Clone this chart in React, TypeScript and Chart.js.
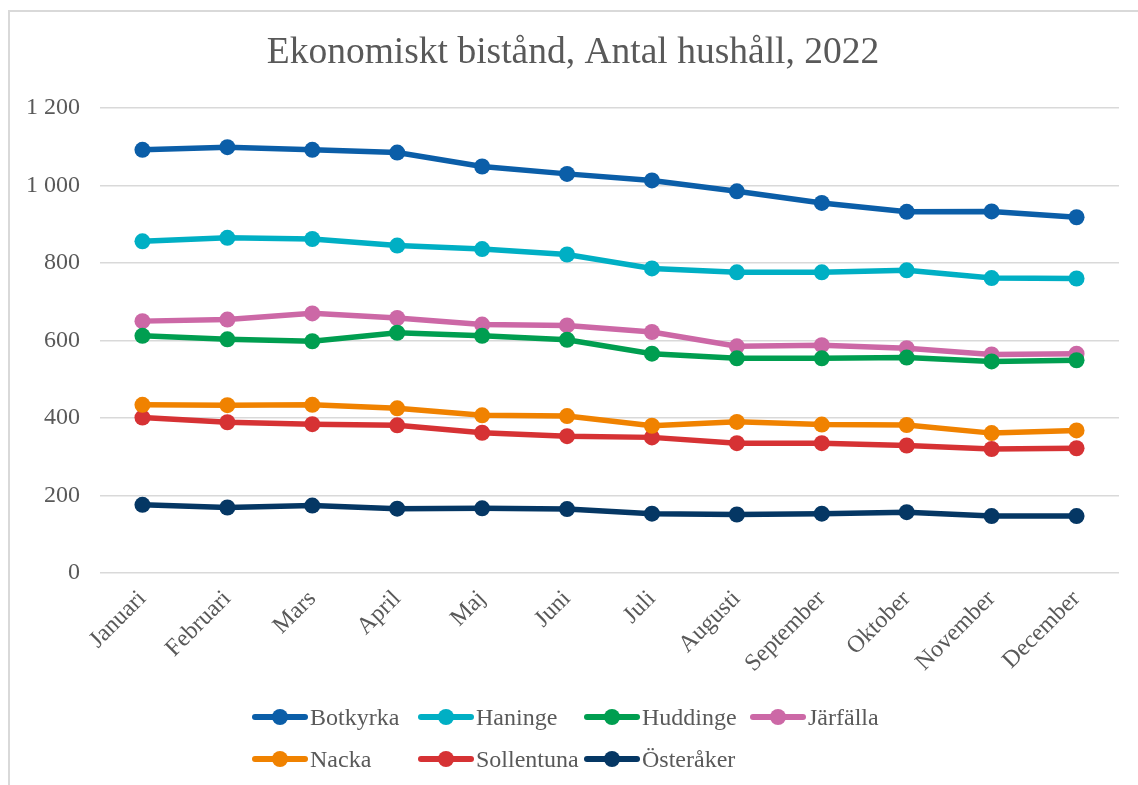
import React, { useEffect, useRef } from "react";
import { Chart, registerables } from "chart.js";

Chart.register(...registerables);

const titleText = "Ekonomiskt bistånd, Antal hushåll, 2022";
const months = ["Januari", "Februari", "Mars", "April", "Maj", "Juni", "Juli", "Augusti", "September", "Oktober", "November", "December"];
const seriesNames = ["Botkyrka", "Haninge", "Huddinge", "Järfälla", "Nacka", "Sollentuna", "Österåker"];
const botkyrka = [1092, 1099, 1092, 1085, 1049, 1030, 1013, 985, 955, 932, 933, 918];
const haninge = [856, 865, 862, 845, 836, 822, 786, 776, 776, 781, 761, 760];
const huddinge = [612, 603, 598, 620, 612, 602, 566, 554, 554, 556, 546, 549];
const jarfalla = [650, 654, 670, 658, 641, 639, 622, 585, 588, 580, 564, 566];
const nacka = [434, 433, 434, 425, 407, 405, 380, 390, 383, 382, 361, 368];
const sollentuna = [401, 389, 384, 381, 362, 353, 350, 335, 335, 329, 320, 322];
const osteraker = [176, 169, 174, 166, 167, 165, 153, 151, 153, 157, 147, 147];
const yTicks = [0, 200, 400, 600, 800, 1000, 1200];

const seriesValues = [botkyrka, haninge, huddinge, jarfalla, nacka, sollentuna, osteraker];
const seriesColors = ["#0B5EA8", "#00AFC4", "#009E50", "#CC68A6", "#F08200", "#D63234", "#053764"];

const FONT = "'Liberation Serif', 'Times New Roman', serif";
const TEXT = "#595959";

function fmt(v: number): string {
  return String(v).replace(/\B(?=(\d{3})+(?!\d))/g, " ");
}

export default function App() {
  const ref = useRef<HTMLCanvasElement | null>(null);

  useEffect(() => {
    if (!ref.current) return;
    const chart = new Chart(ref.current, {
      type: "line",
      data: {
        labels: months,
        datasets: seriesNames.map((name, i) => ({
          label: name,
          data: seriesValues[i],
          borderColor: seriesColors[i],
          backgroundColor: seriesColors[i],
          borderWidth: 5.5,
          pointRadius: 8,
          pointHoverRadius: 8,
          pointBorderWidth: 0,
          tension: 0,
        })),
      },
      options: {
        responsive: false,
        animation: false,
        layout: { padding: { left: 27, right: 19, top: 10, bottom: 0 } },
        plugins: {
          legend: { display: false },
          tooltip: { enabled: false },
          title: {
            display: true,
            text: titleText,
            color: TEXT,
            font: { family: FONT, size: 37.5, weight: "normal" },
            padding: { top: 21, bottom: 32 },
          },
        },
        scales: {
          x: {
            offset: true,
            grid: { display: false, drawTicks: false },
            border: { display: false },
            ticks: {
              color: TEXT,
              font: { family: FONT, size: 24 },
              minRotation: 45,
              maxRotation: 45,
              padding: 12,
              autoSkip: false,
            },
            afterFit: (s: any) => {
              s.height = 127;
            },
          },
          y: {
            min: 0,
            max: 1200,
            afterBuildTicks: (s: any) => {
              s.ticks = yTicks.map((v) => ({ value: v }));
            },
            grid: { color: "#d9d9d9", lineWidth: 1.5, drawTicks: false },
            border: { display: false },
            ticks: {
              color: TEXT,
              font: { family: FONT, size: 24 },
              padding: 20,
              callback: (v: any) => fmt(Number(v)),
            },
            afterFit: (s: any) => {
              s.width = 73;
            },
          },
        },
      },
    });
    return () => chart.destroy();
  }, []);

  return (
    <div style={{ position: "fixed", left: 0, top: 0, width: 1138, height: 785, background: "#fff", overflow: "hidden" }}>
      <div
        style={{
          position: "absolute",
          left: 8,
          top: 10,
          width: 1150,
          height: 800,
          border: "2px solid #d9d9d9",
          boxSizing: "border-box",
        }}
      />
      <canvas ref={ref} width={1138} height={700} style={{ position: "absolute", left: 0, top: 0 }} />
      <div
        style={{
          position: "absolute",
          left: 252,
          top: 696,
          display: "grid",
          gridTemplateColumns: "repeat(4, 166px)",
          gridAutoRows: "42px",
        }}
      >
        {seriesNames.map((name, i) => (
          <div key={name} style={{ display: "flex", alignItems: "center", height: 42 }}>
            <svg width={56} height={18} style={{ flex: "none" }}>
              <line x1={3} y1={9} x2={53} y2={9} stroke={seriesColors[i]} strokeWidth={6} strokeLinecap="round" />
              <circle cx={28} cy={9} r={8} fill={seriesColors[i]} />
            </svg>
            <span style={{ fontFamily: FONT, fontSize: 24, color: TEXT, marginLeft: 2, whiteSpace: "nowrap" }}>{name}</span>
          </div>
        ))}
      </div>
    </div>
  );
}
